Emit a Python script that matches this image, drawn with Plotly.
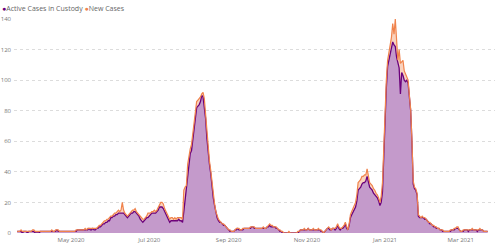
import pandas as pd
import plotly.graph_objects as go

start_date = "2020-03-20"

active = [
    1,1,1,1,0,1,1,1,0,1,
    1,1,1,1,0,0,0,0,1,1,
    1,1,1,1,1,1,1,1,1,1,
    1,2,1,1,1,1,1,1,1,1,
    1,1,1,1,1,1,1,2,2,2,
    2,2,2,2,2,2,3,2,2,3,
    2,2,3,3,4,4,5,6,6,7,
    7,8,8,10,10,11,11,12,12,13,
    13,13,13,13,12,11,10,11,12,13,
    13,14,14,13,12,11,9,8,7,8,
    9,10,10,11,12,13,13,13,13,14,
    15,17,17,17,16,14,12,10,8,7,
    8,8,8,8,8,8,9,8,8,7,
    14,22,30,40,48,52,54,60,68,75,
    82,83,84,86,90,89,82,75,62,52,
    45,39,30,23,18,13,10,8,7,7,
    6,5,5,4,3,2,1,1,1,1,
    2,2,3,2,2,2,2,3,3,3,
    3,3,3,4,4,3,3,3,3,3,
    3,3,3,3,3,4,4,5,4,4,
    4,4,3,3,2,1,1,0,0,0,
    0,0,0,0,0,0,0,0,0,0,
    1,2,2,2,2,2,2,3,2,2,
    2,2,2,2,2,2,2,1,1,0,
    1,2,3,3,2,2,3,3,2,3,
    5,3,2,3,3,4,6,3,2,5,
    10,12,14,15,17,21,28,29,30,32,
    33,33,34,37,33,30,29,28,26,25,
    24,23,21,18,20,27,50,80,95,109,
    113,118,120,125,123,122,115,111,108,91,
    105,103,100,99,100,98,88,80,59,32,
    29,28,25,11,10,10,10,10,9,9,
    8,7,6,6,5,4,4,3,3,3,
    2,2,1,1,1,1,1,1,1,2,
    2,2,3,3,3,2,1,1,1,2,
    2,2,1,2,2,2,2,2,2,1,
    2,2,2,2,1,1,1,1,
]

new_cases = [
    1,1,1,2,1,1,1,1,1,1,
    1,1,2,2,1,1,1,1,1,1,
    1,1,1,1,1,1,1,2,1,1,
    2,2,2,1,1,1,1,1,1,1,
    1,1,1,1,1,1,2,2,2,2,
    2,2,2,3,2,3,3,3,3,3,
    3,3,3,4,5,5,6,7,8,8,
    9,9,10,11,11,12,13,13,14,15,
    14,15,20,15,13,12,11,12,13,14,
    15,15,16,14,13,12,11,10,9,9,
    10,11,13,13,13,14,14,15,14,15,
    17,19,20,20,19,16,14,12,10,9,
    10,10,9,10,9,10,10,10,10,9,
    28,30,31,45,52,55,58,66,73,79,
    86,87,88,89,91,92,88,78,65,56,
    47,41,32,25,19,14,11,9,8,7,
    6,6,5,4,3,2,2,1,1,1,
    2,3,3,3,2,2,3,3,3,3,
    3,3,4,4,4,4,3,3,3,3,
    3,3,4,3,3,4,5,6,5,5,
    4,4,4,3,2,2,1,1,0,0,
    0,0,1,0,0,0,0,0,0,1,
    1,2,2,2,3,2,2,3,2,2,
    2,3,2,2,2,3,2,2,1,0,
    1,2,3,4,3,2,3,3,3,4,
    6,4,3,3,4,5,7,4,2,6,
    12,14,16,18,20,25,33,34,35,37,
    37,38,38,42,38,33,32,31,29,28,
    26,25,23,20,24,33,55,85,100,113,
    118,124,128,137,130,140,125,113,120,111,
    112,113,106,104,101,100,90,81,60,34,
    30,29,26,12,11,10,11,10,10,9,
    8,7,7,6,5,5,4,4,3,3,
    2,2,2,1,1,1,1,1,2,2,
    2,3,3,4,4,2,1,1,2,2,
    2,2,2,2,2,3,2,2,2,2,
    2,3,2,2,1,1,1,1,
]

y_ticks = [0, 20, 40, 60, 80, 100, 120, 140]
series_names = ["Active Cases in Custody", "New Cases"]

dates = pd.date_range(start_date, periods=len(active), freq="D")

PURPLE = "#6B007B"
PURPLE_FILL = "#C49ACB"
ORANGE = "#F0834C"
ORANGE_FILL = "#F9D2BE"

fig = go.Figure()
fig.add_trace(go.Scatter(x=dates, y=new_cases, mode="lines", fill="tozeroy",
                         fillcolor=ORANGE_FILL, line=dict(width=0, color=ORANGE),
                         showlegend=False, hoverinfo="skip"))
fig.add_trace(go.Scatter(x=dates, y=active, mode="lines", fill="tozeroy",
                         fillcolor=PURPLE_FILL, line=dict(width=0, color=PURPLE),
                         showlegend=False, hoverinfo="skip"))
fig.add_trace(go.Scatter(x=dates, y=active, mode="lines", name=series_names[0],
                         line=dict(width=1.3, color=PURPLE), showlegend=False))
fig.add_trace(go.Scatter(x=dates, y=new_cases, mode="lines", name=series_names[1],
                         line=dict(width=1.2, color=ORANGE), showlegend=False))

legend_text = (f"<span style='color:{PURPLE}'>●</span>{series_names[0]} "
               f"<span style='color:{ORANGE}'>●</span>{series_names[1]}")
fig.add_annotation(text=legend_text, xref="paper", yref="paper",
                   x=-0.029, y=1.0, xanchor="left", yanchor="bottom", yshift=4,
                   showarrow=False, font=dict(family="Open Sans", size=7, color="#666"))

fig.update_layout(
    width=500, height=243,
    margin=dict(l=14, r=5, t=19, b=10, autoexpand=False),
    paper_bgcolor="white", plot_bgcolor="white",
    font=dict(family="Open Sans", size=6, color="#777"),
    showlegend=False,
)
fig.update_xaxes(range=["2020-03-17 12:00", "2021-03-27 19:00"],
                 tickformat="%b %Y", dtick="M2", tick0="2020-01-01",
                 showgrid=False, showline=False, zeroline=False, automargin=False,
                 ticks="", ticklabelstandoff=2)
fig.update_yaxes(range=[0, 140], tickvals=y_ticks, showgrid=True,
                 gridcolor="#dcdcdc", griddash="dot", gridwidth=1, automargin=False,
                 zeroline=False, showline=False, ticks="", ticklabelstandoff=2)

fig.write_html("out.html")
